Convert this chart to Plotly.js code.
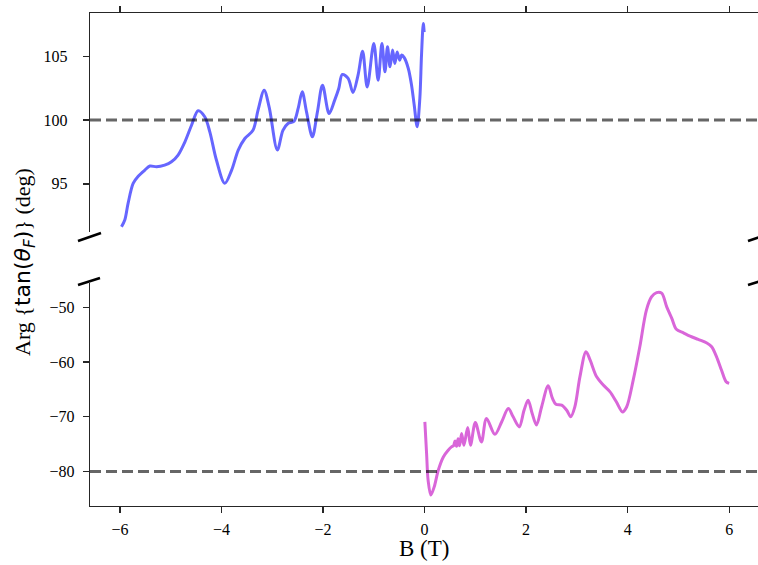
<!DOCTYPE html>
<html>
<head>
<meta charset="utf-8">
<script src="https://cdn.plot.ly/plotly-3.0.1.min.js"></script>
<style>
  html, body { margin: 0; padding: 0; overflow: hidden; background: #fff; }
</style>
</head>
<body>
<div id="chart" style="width:758px;height:565px"></div>
<script>
// Faraday rotation phase versus magnetic field, negative and positive field sweeps
const negB = [-5.97, -5.905, -5.84, -5.74, -5.64, -5.51, -5.41, -5.28, -5.12, -4.985,
  -4.855, -4.72, -4.59, -4.46, -4.33, -4.23, -4.10, -3.935, -3.80, -3.67,
  -3.54, -3.38, -3.28, -3.16, -3.06, -2.90, -2.79, -2.69, -2.57, -2.49,
  -2.41, -2.325, -2.21, -2.11, -2.01, -1.88, -1.77, -1.69, -1.62, -1.505,
  -1.41, -1.31, -1.22, -1.13, -1.0, -0.914, -0.84, -0.78, -0.73, -0.68,
  -0.63, -0.585, -0.54, -0.49, -0.45, -0.40, -0.32, -0.256, -0.204, -0.146,
  -0.093, -0.06, -0.025, -0.008];
const negArg = [91.64, 92.16, 93.47, 95.04, 95.6, 96.08, 96.4, 96.34, 96.47, 96.73,
  97.26, 98.3, 99.6, 100.73, 100.26, 99.08, 96.87, 95.04, 96.08, 97.65,
  98.56, 99.2, 100.78, 102.35, 101.0, 97.65, 99.2, 99.74, 99.92, 100.92,
  102.22, 100.65, 98.7, 100.65, 102.74, 100.52, 101.57, 102.48, 103.58, 103.27,
  102.17, 103.53, 105.4, 102.6, 106.0, 103.13, 106.0, 103.79, 105.75, 104.18,
  105.49, 104.44, 105.35, 104.7, 105.1, 104.9, 104.05, 102.74, 101.18, 99.48,
  101.7, 105.1, 107.58, 106.9];

const posB = [0.006, 0.04, 0.07, 0.124, 0.19, 0.27, 0.37, 0.465, 0.53, 0.57,
  0.60, 0.63, 0.66, 0.69, 0.73, 0.775, 0.85, 0.905, 1.0, 1.12,
  1.22, 1.385, 1.52, 1.65, 1.745, 1.865, 1.96, 2.04, 2.12, 2.205,
  2.305, 2.435, 2.52, 2.587, 2.70, 2.80, 2.88, 2.96, 3.06, 3.18,
  3.26, 3.39, 3.52, 3.65, 3.78, 3.90, 3.98, 4.11, 4.24, 4.37,
  4.47, 4.57, 4.67, 4.77, 4.87, 4.96, 5.10, 5.23, 5.39, 5.56,
  5.655, 5.75, 5.85, 5.94, 6.0];
const posArg = [-70.93, -76.7, -81.6, -84.3, -82.8, -79.76, -77.33, -76.1, -75.5, -75.3,
  -74.4, -75.4, -74.0, -75.3, -73.05, -75.2, -71.95, -75.2, -71.04, -74.6,
  -70.3, -73.2, -70.9, -68.5, -70.0, -71.84, -68.8, -66.96, -69.4, -71.5,
  -68.2, -64.34, -66.65, -67.7, -67.87, -68.8, -70.0, -68.2, -62.7, -58.1,
  -59.6, -62.7, -64.2, -65.4, -67.3, -69.1, -68.2, -63.3, -57.2, -50.5,
  -48.1, -47.3, -47.4, -49.9, -52.0, -54.0, -54.65, -55.25, -55.85, -56.5,
  -57.2, -59.0, -61.5, -63.6, -63.9];

// reference levels (deg) for the upper and lower panels
const refUpper = [100];
const refLower = [-80];

const xTickVals = [-6, -4, -2, 0, 2, 4, 6];
const upperTickVals = [95, 100, 105];
const lowerTickVals = [-80, -70, -60, -50];

// plot-area geometry in pixels
const W = 758, H = 565;
const M = { l: 90, r: 0, t: 13, b: 59 };
const plotW = W - M.l - M.r, plotH = H - M.t - M.b;
const toPX = (px) => (px - M.l) / plotW;
const toPY = (py) => (H - M.b - py) / plotH;

const serif = 'Liberation Serif';
const spine = '#262626';

const xBase = () => ({
  range: [-6.59, 6.568],
  tickvals: xTickVals,
  showline: true, linecolor: spine, linewidth: 1.3,
  ticks: 'outside', ticklen: 6, tickwidth: 1.3, tickcolor: spine,
  showgrid: false, zeroline: false,
  tickfont: { family: serif, size: 16, color: '#000' }
});
const yBase = () => ({
  showline: true, linecolor: spine, linewidth: 1.3,
  ticks: 'outside', ticklen: 6, tickwidth: 1.3, tickcolor: spine,
  showgrid: false, zeroline: false,
  tickfont: { family: serif, size: 16, color: '#000' }
});

const traces = [
  { x: negB, y: negArg, xaxis: 'x2', yaxis: 'y2', mode: 'lines',
    line: { color: '#6666ff', width: 3, shape: 'spline', smoothing: 0.9 } },
  { x: posB, y: posArg, xaxis: 'x', yaxis: 'y', mode: 'lines',
    line: { color: '#d966d9', width: 3, shape: 'spline', smoothing: 0.9 } }
];

const dashLine = { color: 'rgba(0,0,0,0.6)', width: 3, dash: '11px,5px' };
const shapes = [];
refUpper.forEach(v => shapes.push({ type: 'line', xref: 'paper', yref: 'y2',
  x0: 0, x1: 1.01, y0: v, y1: v, line: dashLine, layer: 'above' }));
refLower.forEach(v => shapes.push({ type: 'line', xref: 'paper', yref: 'y',
  x0: 0, x1: 1.01, y0: v, y1: v, line: dashLine, layer: 'above' }));

// diagonal break marks on both sides of the axis gap
const breakMarks = [
  [[78, 241], [101, 233]],
  [[78, 285], [100, 278]]
];
[0, 670].forEach(shift => {
  breakMarks.forEach(([a, b]) => shapes.push({
    type: 'line', xref: 'paper', yref: 'paper',
    x0: toPX(a[0] + shift), y0: toPY(a[1]), x1: toPX(b[0] + shift), y1: toPY(b[1]),
    line: { color: '#000', width: 2.6 }
  }));
});

const layout = {
  width: W, height: H,
  margin: M,
  paper_bgcolor: '#fff', plot_bgcolor: '#fff',
  showlegend: false,
  font: { family: serif, color: '#000', size: 16 },
  xaxis: Object.assign(xBase(), { anchor: 'y', side: 'bottom', ticklabelstandoff: 2 }),
  xaxis2: Object.assign(xBase(), { anchor: 'y2', side: 'top', matches: 'x', showticklabels: false }),
  yaxis: Object.assign(yBase(), { domain: [0, toPY(283.3)], range: [-86.3, -45.6],
    tickvals: lowerTickVals, anchor: 'x', ticklabelstandoff: 5 }),
  yaxis2: Object.assign(yBase(), { domain: [toPY(231.7), 1], range: [91.25, 108.4],
    tickvals: upperTickVals, anchor: 'x2', ticklabelstandoff: 12 }),
  shapes: shapes,
  annotations: [
    { xref: 'paper', yref: 'paper', x: 0.5, y: toPY(548), xanchor: 'center', yanchor: 'middle',
      text: 'B (T)', showarrow: false, font: { family: serif, size: 23, color: '#000' } },
    { xref: 'paper', yref: 'paper', x: toPX(24), y: toPY(262), xanchor: 'center', yanchor: 'middle',
      textangle: -90, showarrow: false, font: { family: serif, size: 22, color: '#000' },
      text: 'Arg {<span style="font-family:\'DejaVu Sans\'">tan(<i>θ</i><sub><i>F</i></sub>)</span>} (deg)' }
  ]
};

Plotly.newPlot('chart', traces, layout, { displayModeBar: false, staticPlot: true });
</script>
</body>
</html>
